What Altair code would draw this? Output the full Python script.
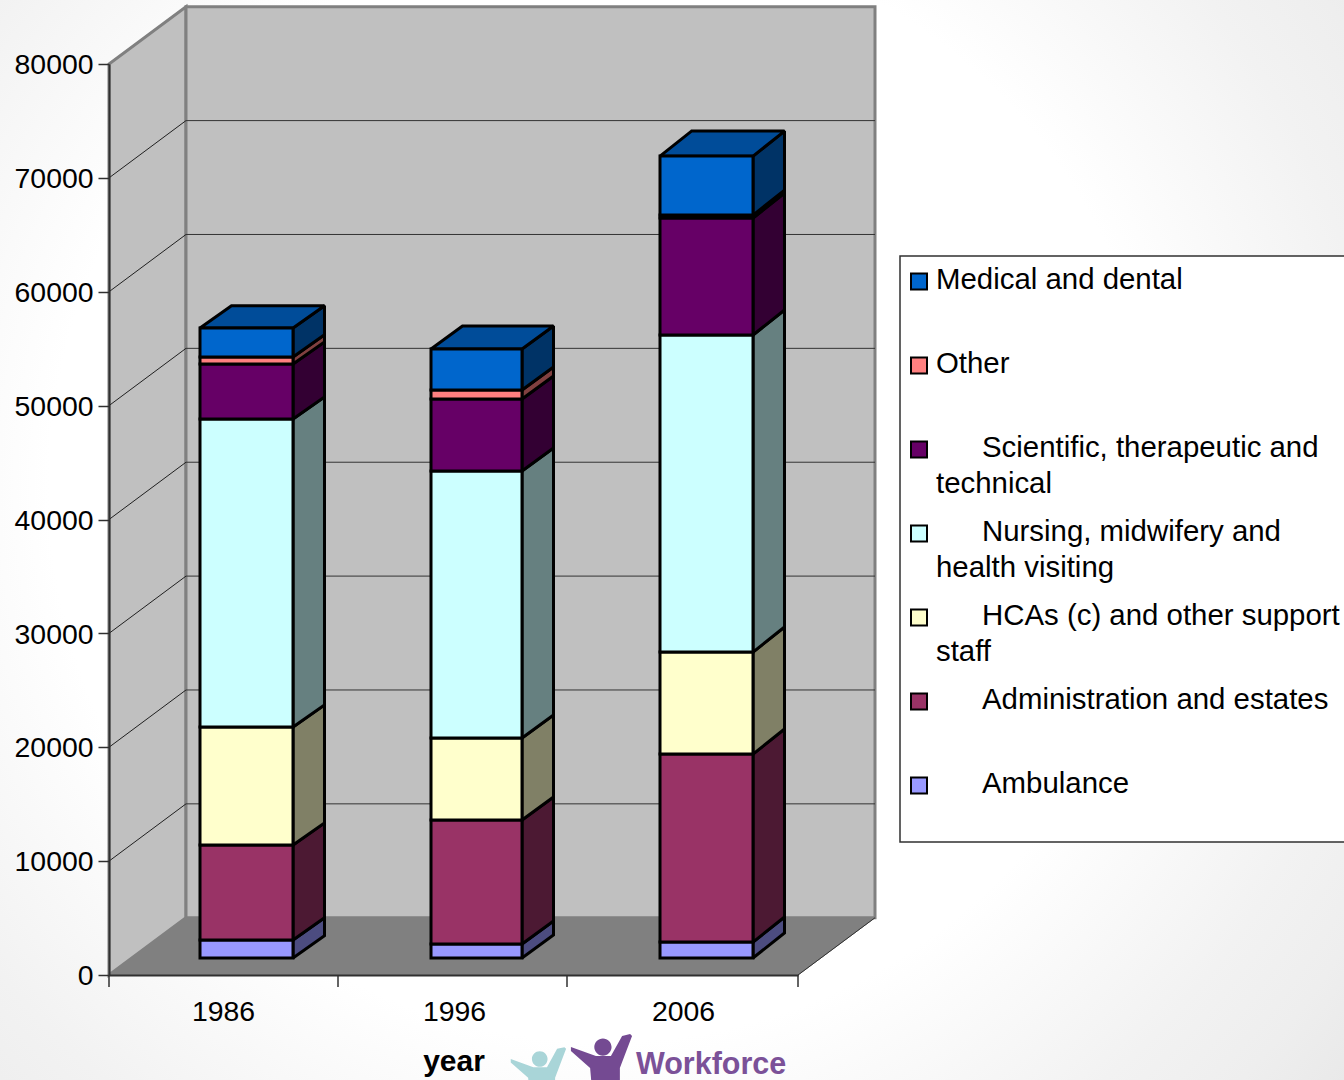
import altair as alt
import pandas as pd

# Workforce head-count by staff group, bottom of the stack first
years = ["1986", "1996", "2006"]
series = [
    "Ambulance",
    "Administration and estates",
    "HCAs (c) and other support staff",
    "Nursing, midwifery and health visiting",
    "Scientific, therapeutic and technical",
    "Other",
    "Medical and dental",
]
ambulance = [1580, 1230, 1400]
administration = [8340, 10890, 16510]
support = [10360, 7200, 8960]
nursing = [27050, 23450, 27840]
scientific = [4830, 6320, 10270]
other = [620, 790, 260]
medical = [2550, 3600, 5180]
values = [ambulance, administration, support, nursing, scientific, other, medical]

front_colors = ["#9999FF", "#993366", "#FFFFCC", "#CCFFFF", "#660066", "#FF8080", "#0066CC"]
side_colors = ["#4C4C80", "#4C1933", "#808066", "#668080", "#330033", "#804040", "#003366"]
top_color = "#004C99"

# Key entries, top to bottom: written lines and whether the first line is indented
key_lines = [
    (["Medical and dental"], False),
    (["Other"], False),
    (["Scientific, therapeutic and", "technical"], True),
    (["Nursing, midwifery and", "health visiting"], True),
    (["HCAs (c) and other support", "staff"], True),
    (["Administration and estates"], True),
    (["Ambulance"], True),
]
key_colors = front_colors[::-1]

FONT = "Liberation Sans"
PLOT_W, PLOT_H = 689, 911
YMAX = 80000

# Oblique projection used for the 3-D look: depth moves right in x and up in value units
WALL_DX, WALL_LIFT = 77, 5030
BAR_LIFT = 1490
BAR_DX = 31.5
bar_depth = [1950, 2020, 2200]
bar_left = [91, 322, 551]
bar_right = [184, 413, 644]
grid_levels = list(range(10000, 80000, 10000))
axis_levels = list(range(0, 90000, 10000))
x_ticks = [0, 229, 458, 689]
year_label_x = [114, 345, 574]

x_scale = alt.Scale(domain=[0, PLOT_W], nice=False, zero=False)
y_scale = alt.Scale(domain=[0, YMAX], nice=False, zero=False)
year_lookup = "{" + ",".join(f"'{x}':'{y}'" for x, y in zip(year_label_x, years)) + "}"
x_axis = alt.Axis(
    values=year_label_x, grid=False, tickSize=0, labelExpr=f"{year_lookup}[datum.value]",
    labelFont=FONT, labelFontSize=28.4, labelColor="black", labelPadding=23, labelFlush=False,
    labelOverlap=False, domainColor="#303030", domainWidth=2, title="year", titleFont=FONT,
    titleFontSize=30, titleFontWeight="bold", titleColor="black", titlePadding=21, zindex=2,
)
y_axis = alt.Axis(
    values=axis_levels, grid=False, tickSize=11, tickColor="#303030", tickWidth=1.5,
    labelFont=FONT, labelFontSize=28.4, labelColor="black", labelPadding=5, labelFlush=False,
    labelOffset=0.7, labelOverlap=False, domainColor="#303030", domainWidth=2, title=None,
    format="d", zindex=2,
)


def X(field):
    return alt.X(f"{field}:Q", scale=x_scale, axis=x_axis)


def Y(field):
    return alt.Y(f"{field}:Q", scale=y_scale, axis=y_axis)


# Stacked segments and their projected faces
front_rows, side_rows, top_rows = [], [], []
for b, year in enumerate(years):
    base = BAR_LIFT
    depth = bar_depth[b]
    for s, name in enumerate(series):
        lo, hi = base, base + values[s][b]
        base = hi
        front_rows.append(dict(year=year, series=name, fill=front_colors[s],
                               x0=bar_left[b], x1=bar_right[b], y0=lo, y1=hi))
        key = f"{year}-{s}"
        side_rows.append(dict(key=key, fill=side_colors[s], x=bar_right[b], lo=lo, hi=hi))
        side_rows.append(dict(key=key, fill=side_colors[s], x=bar_right[b] + BAR_DX, lo=lo + depth, hi=hi + depth))
    top_rows.append(dict(key=year, y=base, lo=bar_left[b], hi=bar_right[b]))
    top_rows.append(dict(key=year, y=base + depth, lo=bar_left[b] + BAR_DX, hi=bar_right[b] + BAR_DX))

one = pd.DataFrame({"k": [0]})

# Soft page shading, palest around the middle of the sheet
backdrop = alt.Chart(one).mark_rect(
    color=alt.RadialGradient(
        gradient="radial", x1=0.45, y1=0.46, r1=0, x2=0.45, y2=0.46, r2=0.78,
        stops=[
            alt.GradientStop(offset=0, color="#ffffff"),
            alt.GradientStop(offset=0.53, color="#ffffff"),
            alt.GradientStop(offset=0.74, color="#f2f2f2"),
            alt.GradientStop(offset=0.83, color="#eeeeee"),
            alt.GradientStop(offset=0.92, color="#e8e8e8"),
            alt.GradientStop(offset=1, color="#dcdcdc"),
        ],
    )
).encode(x=alt.value(-109), x2=alt.value(1235), y=alt.value(-64), y2=alt.value(1016))

WALL = dict(fill="#C0C0C0", stroke="#808080", strokeWidth=3)
left_wall = alt.Chart(pd.DataFrame({
    "x": [0, WALL_DX], "lo": [0, WALL_LIFT], "hi": [YMAX, YMAX + WALL_LIFT],
})).mark_area(**WALL).encode(x=X("x"), y=Y("lo"), y2="hi:Q")

back_wall = alt.Chart(pd.DataFrame({
    "x0": [WALL_DX], "x1": [WALL_DX + PLOT_W], "lo": [WALL_LIFT], "hi": [YMAX + WALL_LIFT],
})).mark_rect(**WALL).encode(x=X("x0"), x2="x1:Q", y=Y("lo"), y2="hi:Q")

floor = alt.Chart(pd.DataFrame({
    "y": [0, WALL_LIFT], "lo": [0, WALL_DX], "hi": [PLOT_W, PLOT_W + WALL_DX],
})).mark_area(orient="horizontal", fill="#808080", stroke="#808080", strokeWidth=1).encode(
    y=Y("y"), x=X("lo"), x2="hi:Q"
)

grid_back = alt.Chart(pd.DataFrame({
    "x0": WALL_DX, "x1": WALL_DX + PLOT_W, "y0": [v + WALL_LIFT for v in grid_levels],
})).mark_rule(color="#333333", strokeWidth=1).encode(x=X("x0"), x2="x1:Q", y=Y("y0"))

grid_side = alt.Chart(pd.DataFrame({
    "x0": 0, "x1": WALL_DX, "y0": grid_levels, "y1": [v + WALL_LIFT for v in grid_levels],
})).mark_rule(color="#202020", strokeWidth=1).encode(x=X("x0"), x2="x1:Q", y=Y("y0"), y2="y1:Q")

floor_edge = alt.Chart(pd.DataFrame({
    "x0": [PLOT_W], "x1": [PLOT_W + WALL_DX], "y0": [0], "y1": [WALL_LIFT],
})).mark_rule(color="#303030", strokeWidth=1).encode(x=X("x0"), x2="x1:Q", y=Y("y0"), y2="y1:Q")

x_tick_marks = alt.Chart(pd.DataFrame({"x": x_ticks})).mark_rule(color="#303030", strokeWidth=1.5).encode(
    x=X("x"), y=alt.value(PLOT_H), y2=alt.value(PLOT_H + 12)
)

EDGE = dict(stroke="black", strokeWidth=3, strokeJoin="miter", strokeMiterLimit=2)
sides = alt.Chart(pd.DataFrame(side_rows)).mark_area(**EDGE).encode(
    x=X("x"), y=Y("lo"), y2="hi:Q", detail="key:N", fill=alt.Fill("fill:N", scale=None)
)
tops = alt.Chart(pd.DataFrame(top_rows)).mark_area(orient="horizontal", fill=top_color, **EDGE).encode(
    y=Y("y"), x=X("lo"), x2="hi:Q", detail="key:N"
)
fronts = alt.Chart(pd.DataFrame(front_rows)).mark_rect(**EDGE).encode(
    x=X("x0"), x2="x1:Q", y=Y("y0"), y2="y1:Q", fill=alt.Fill("fill:N", scale=None)
)

# Boxed key on the right, running off the page edge
key_frame = alt.Chart(one).mark_rect(fill="white", stroke="#303030", strokeWidth=1.5).encode(
    x=alt.value(791), x2=alt.value(1300), y=alt.value(192), y2=alt.value(778)
)
KEY_TOP, KEY_PITCH = 217.5, 84
key_layers = []
for i, ((lines, indented), colour) in enumerate(zip(key_lines, key_colors)):
    cy = KEY_TOP + i * KEY_PITCH
    key_layers.append(
        alt.Chart(one).mark_square(size=256, fill=colour, stroke="black", strokeWidth=2, opacity=1).encode(
            x=alt.value(810), y=alt.value(cy)
        )
    )
    key_layers.append(
        alt.Chart(one).mark_text(
            text=lines[0], font=FONT, fontSize=29.4, color="black", align="left", baseline="alphabetic"
        ).encode(x=alt.value(873 if indented else 827), y=alt.value(cy + 7))
    )
    if len(lines) > 1:
        key_layers.append(
            alt.Chart(one).mark_text(
                text=lines[1], font=FONT, fontSize=29.4, color="black", align="left", baseline="alphabetic"
            ).encode(x=alt.value(827), y=alt.value(cy + 43))
        )

# Logo in the footer: two raised-arm figures and the wordmark
FIGURE = (
    "M-.94,-.31L-.94,-.19L-.34,.34L-.28,1.03L.59,1.03L.59,.34L.97,-.66L.91,-.72L.66,-.66"
    "L.31,-.03L-.16,-.03Z"
    "M-.21,-.31a.27,.27 0 1,0 .54,0a.27,.27 0 1,0 -.54,0Z"
)
logo_teal = alt.Chart(one).mark_point(
    shape=FIGURE, size=3360, filled=True, fill="#A9D5D8", opacity=1, strokeWidth=0
).encode(x=alt.value(429), y=alt.value(1004))
logo_purple = alt.Chart(one).mark_point(
    shape=FIGURE, size=4096, filled=True, fill="#744A92", opacity=1, strokeWidth=0
).encode(x=alt.value(492), y=alt.value(993))
logo_word = alt.Chart(pd.DataFrame({"t": ["Workforce"]})).mark_text(
    font=FONT, fontSize=30.5, fontWeight="bold", color="#7B5198", align="left", baseline="alphabetic"
).encode(text="t:N", x=alt.value(527), y=alt.value(1010))

chart = alt.layer(
    backdrop, left_wall, back_wall, floor, grid_side, grid_back, floor_edge, x_tick_marks,
    sides, tops, fronts, key_frame, *key_layers, logo_teal, logo_purple, logo_word,
).properties(
    width=PLOT_W, height=PLOT_H,
    padding={"left": 109, "top": 64, "right": 546, "bottom": 105},
    autosize=alt.AutoSizeParams(type="none"),
).configure_view(stroke=None)

chart.save("out.html", embed_options={"renderer": "svg", "actions": False})
